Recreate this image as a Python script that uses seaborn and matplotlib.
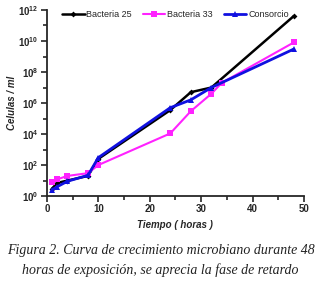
import numpy as np
import pandas as pd
import seaborn as sns
import matplotlib.pyplot as plt
from matplotlib.ticker import MultipleLocator, FixedLocator, NullFormatter

# values (cells / ml vs hours)
t_b25 = [1, 2, 4, 8, 10, 24, 28, 32, 48]
b25 = [3, 7, 10, 20, 250, 3.5e5, 5e6, 1e7, 4e11]
t_b33 = [1, 2, 4, 8, 10, 24, 28, 32, 34, 48]
b33 = [8, 12, 20, 30, 100, 1.1e4, 3e5, 4e6, 2e7, 8e9]
t_cons = [1, 2, 4, 8, 10, 24, 28, 32, 48]
cons = [2.5, 4, 9, 22, 300, 5e5, 1.6e6, 1e7, 3e9]

df = pd.concat([
    pd.DataFrame({"t": t_b25, "v": b25, "serie": "Bacteria 25"}),
    pd.DataFrame({"t": t_b33, "v": b33, "serie": "Bacteria 33"}),
    pd.DataFrame({"t": t_cons, "v": cons, "serie": "Consorcio"}),
])

sns.set_style("ticks")
plt.rcParams["font.family"] = ["Liberation Sans", "DejaVu Sans"]

fig = plt.figure(figsize=(3.21, 2.85), dpi=100)
ax = fig.add_axes([0.146, 0.312, 0.801, 0.653])

palette = {"Bacteria 25": "black", "Bacteria 33": "#ff22ff", "Consorcio": "#1010e0"}
markers = {"Bacteria 25": "D", "Bacteria 33": "s", "Consorcio": "^"}
sizes = {"Bacteria 25": 3, "Bacteria 33": 5, "Consorcio": 4}
widths = {"Bacteria 25": 1.8, "Bacteria 33": 1.5, "Consorcio": 2.0}
for name, g in df.groupby("serie"):
    sns.lineplot(data=g, x="t", y="v", color=palette[name], marker=markers[name],
                 markersize=sizes[name], markeredgewidth=0, linewidth=widths[name],
                 label=name, ax=ax)

ax.set_yscale("log")
ax.set_xlim(0, 50)
ax.set_ylim(1, 1e12)
ax.xaxis.set_major_locator(MultipleLocator(10))
ax.xaxis.set_minor_locator(MultipleLocator(5))
ax.yaxis.set_major_locator(FixedLocator([10.0 ** k for k in range(0, 13, 2)]))
ax.yaxis.set_minor_locator(FixedLocator([10.0 ** k for k in range(1, 12, 2)]))
ax.yaxis.set_minor_formatter(NullFormatter())
ax.tick_params(which="both", direction="out", width=1.2, labelsize=7, pad=2)
ax.tick_params(which="major", length=4)
ax.tick_params(which="minor", length=3)
for lab in ax.get_xticklabels() + ax.get_yticklabels():
    lab.set_fontweight("bold")
for s in ["left", "bottom"]:
    ax.spines[s].set_linewidth(1.3)
sns.despine(ax=ax)

ax.set_xlabel("Tiempo ( horas )", fontsize=7, fontstyle="italic", fontweight="bold",
              labelpad=4)
ax.set_ylabel("Celulas / ml", fontsize=7, fontstyle="italic", fontweight="bold",
              labelpad=1)

ax.legend(loc="lower center", bbox_to_anchor=(0.5, 0.93), ncol=3, frameon=False,
          fontsize=6.5, handlelength=2.5, handletextpad=0.2, columnspacing=1.2,
          borderaxespad=0)

fig.text(0.5, 0.11, "Figura 2. Curva de crecimiento microbiano durante 48",
         ha="center", fontsize=10, fontstyle="italic", color="#222222",
         family=["Liberation Serif", "DejaVu Serif"])
fig.text(0.5, 0.04, "horas de exposición, se aprecia la fase de retardo",
         ha="center", fontsize=10, fontstyle="italic", color="#222222",
         family=["Liberation Serif", "DejaVu Serif"])

fig.savefig("out.png", dpi=100)
